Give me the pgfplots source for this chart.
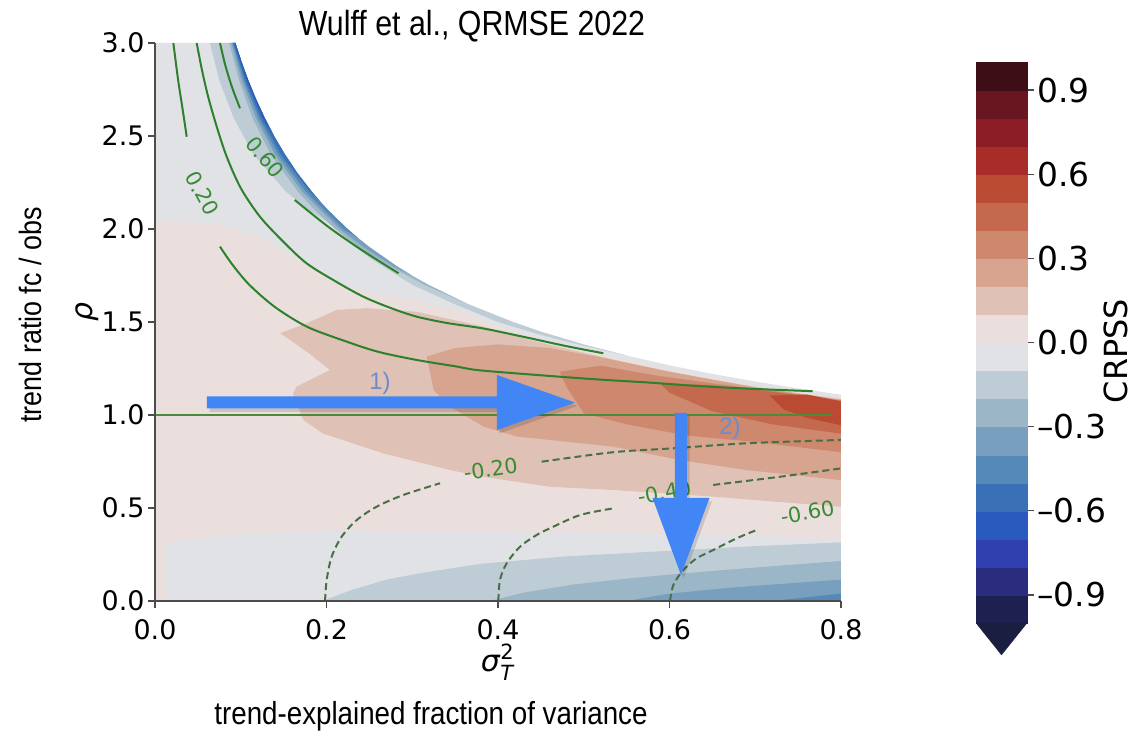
\documentclass[border=0pt]{standalone}
\usepackage{pgfplots}
\pgfplotsset{compat=1.18}
\usepackage{fontspec}
\usepackage{graphicx}
\setmainfont{Liberation Sans}
\newfontfamily\dejavu{DejaVu Sans}
% colour levels (cmocean balance-like), bottom to top
\definecolor{c01}{RGB}{30,32,80}
\definecolor{c02}{RGB}{42,45,125}
\definecolor{c03}{RGB}{48,64,175}
\definecolor{c04}{RGB}{42,90,190}
\definecolor{c05}{RGB}{58,113,182}
\definecolor{c06}{RGB}{84,137,184}
\definecolor{c07}{RGB}{120,160,190}
\definecolor{c08}{RGB}{155,182,198}
\definecolor{c09}{RGB}{190,205,213}
\definecolor{c10}{RGB}{224,226,229}
\definecolor{c11}{RGB}{235,223,221}
\definecolor{c12}{RGB}{223,193,182}
\definecolor{c13}{RGB}{214,164,143}
\definecolor{c14}{RGB}{205,136,109}
\definecolor{c15}{RGB}{196,105,77}
\definecolor{c16}{RGB}{186,75,50}
\definecolor{c17}{RGB}{168,44,40}
\definecolor{c18}{RGB}{140,28,38}
\definecolor{c19}{RGB}{105,22,33}
\definecolor{c20}{RGB}{62,14,22}
\definecolor{ctri}{RGB}{26,30,65}
\definecolor{cgreen}{RGB}{45,128,45}
\definecolor{cdash}{RGB}{72,112,68}
\definecolor{cline}{RGB}{75,140,60}
\definecolor{clab}{RGB}{55,140,50}
\definecolor{arrowblue}{RGB}{66,133,244}
\definecolor{lblue}{RGB}{105,142,205}
\begin{document}
\begin{tikzpicture}
\useasboundingbox (0bp,0bp) rectangle (1136bp,733bp);
\begin{axis}[
  at={(155bp,132bp)}, anchor=south west, scale only axis,
  width=686bp, height=558bp,
  xmin=0, xmax=0.8, ymin=0, ymax=3,
  axis x line*=bottom, axis y line*=left,
  axis line style={-, draw=black!70, line width=1.3bp},
  xtick={0,0.2,0.4,0.6,0.8}, xticklabels={0.0,0.2,0.4,0.6,0.8},
  ytick={0,0.5,1,1.5,2,2.5,3}, yticklabels={0.0,0.5,1.0,1.5,2.0,2.5,3.0},
  tick align=outside, major tick length=7bp,
  tick style={black!70, line width=1.2bp},
  tick label style={font=\dejavu\fontsize{27}{32}\selectfont, black},
  xticklabel style={yshift=-8bp},
  axis on top,
]
% ---------- base domain (-0.1..0)
\addplot[draw=none, fill=c10] coordinates {(0,0) (0.8,0) (0.8,1.109) (0.75,1.143) (0.7,1.18) (0.65,1.221) (0.6,1.267) (0.55,1.32) (0.5,1.379) (0.45,1.448) (0.4174,1.5) (0.3632,1.6) (0.3187,1.7) (0.2994,1.75) (0.2818,1.8) (0.2508,1.9) (0.2371,1.95) (0.2245,2.0) (0.2021,2.1) (0.1921,2.15) (0.1829,2.2) (0.1661,2.3) (0.1516,2.4) (0.1388,2.5) (0.1276,2.6) (0.1176,2.7) (0.1087,2.8) (0.1008,2.9) (0.0937,3.0) (0,3)} --cycle;
% ---------- bands along the upper edge
\addplot[draw=none, fill=c09] coordinates {(0.064,3.0) (0.075,2.8) (0.0915,2.6) (0.115,2.4) (0.153,2.2) (0.18,2.1) (0.2,2.04) (0.25,1.845) (0.3,1.70) (0.35,1.595) (0.4,1.50) (0.45,1.43) (0.5,1.372) (0.55,1.32) (0.5,1.379) (0.45,1.448) (0.4174,1.5) (0.3632,1.6) (0.3187,1.7) (0.2994,1.75) (0.2818,1.8) (0.2508,1.9) (0.2371,1.95) (0.2245,2.0) (0.2021,2.1) (0.1921,2.15) (0.1829,2.2) (0.1661,2.3) (0.1516,2.4) (0.1388,2.5) (0.1276,2.6) (0.1176,2.7) (0.1087,2.8) (0.1008,2.9) (0.0937,3.0)} --cycle;
\addplot[draw=none, fill=c08] coordinates {(0.0865,3.0) (0.098,2.8) (0.1135,2.6) (0.135,2.4) (0.167,2.2) (0.187,2.1) (0.2105,2.0) (0.239,1.9) (0.274,1.8) (0.314,1.7) (0.3632,1.6) (0.3187,1.7) (0.2994,1.75) (0.2818,1.8) (0.2508,1.9) (0.2371,1.95) (0.2245,2.0) (0.2021,2.1) (0.1921,2.15) (0.1829,2.2) (0.1661,2.3) (0.1516,2.4) (0.1388,2.5) (0.1276,2.6) (0.1176,2.7) (0.1087,2.8) (0.1008,2.9) (0.0937,3.0)} --cycle;
\addplot[draw=none, fill=c07] coordinates {(0.089,3.0) (0.101,2.8) (0.1175,2.6) (0.140,2.4) (0.172,2.2) (0.2155,2.0) (0.244,1.9) (0.278,1.8) (0.2994,1.75) (0.2818,1.8) (0.2508,1.9) (0.2371,1.95) (0.2245,2.0) (0.2021,2.1) (0.1921,2.15) (0.1829,2.2) (0.1661,2.3) (0.1516,2.4) (0.1388,2.5) (0.1276,2.6) (0.1176,2.7) (0.1087,2.8) (0.1008,2.9) (0.0937,3.0)} --cycle;
\addplot[draw=none, fill=c06] coordinates {(0.0905,3.0) (0.1035,2.8) (0.1205,2.6) (0.1435,2.4) (0.176,2.2) (0.2195,2.0) (0.2371,1.95) (0.2245,2.0) (0.2021,2.1) (0.1921,2.15) (0.1829,2.2) (0.1661,2.3) (0.1516,2.4) (0.1388,2.5) (0.1276,2.6) (0.1176,2.7) (0.1087,2.8) (0.1008,2.9) (0.0937,3.0)} --cycle;
\addplot[draw=none, fill=c05] coordinates {(0.0915,3.0) (0.105,2.8) (0.123,2.6) (0.147,2.4) (0.1805,2.2) (0.1921,2.15) (0.1829,2.2) (0.1661,2.3) (0.1516,2.4) (0.1388,2.5) (0.1276,2.6) (0.1176,2.7) (0.1087,2.8) (0.1008,2.9) (0.0937,3.0)} --cycle;
\addplot[draw=none, fill=c04] coordinates {(0.0925,3.0) (0.107,2.8) (0.1255,2.6) (0.1388,2.5) (0.1276,2.6) (0.1176,2.7) (0.1087,2.8) (0.1008,2.9) (0.0937,3.0)} --cycle;
% ---------- bands along the bottom
\addplot[draw=none, fill=c09] coordinates {(0.195,0) (0.8,0) (0.8,0.315) (0.7,0.295) (0.6,0.27) (0.48,0.24) (0.38,0.2) (0.31,0.15) (0.27,0.115) (0.23,0.06)} --cycle;
\addplot[draw=none, fill=c08] coordinates {(0.39,0) (0.8,0) (0.8,0.215) (0.7,0.18) (0.62,0.15) (0.56,0.125) (0.49,0.09) (0.43,0.045)} --cycle;
\addplot[draw=none, fill=c07] coordinates {(0.55,0) (0.8,0) (0.8,0.115) (0.74,0.095) (0.68,0.075) (0.6,0.04)} --cycle;
\addplot[draw=none, fill=c06] coordinates {(0.72,0) (0.8,0) (0.8,0.04)} --cycle;
% ---------- positive levels
\addplot[draw=none, fill=c11] coordinates {(0,0) (0.012,0) (0.012,0.30) (0.03,0.33) (0.1,0.36) (0.2,0.38) (0.3,0.375) (0.4,0.37) (0.5,0.37) (0.6,0.365) (0.7,0.35) (0.8,0.335) (0.8,1.09) (0.75,1.124) (0.7,1.16) (0.65,1.2) (0.6,1.245) (0.55,1.295) (0.5,1.345) (0.45,1.405) (0.4,1.475) (0.35,1.57) (0.3,1.62) (0.26,1.65) (0.22,1.70) (0.17,1.83) (0.12,1.96) (0.07,2.03) (0,2.04)} --cycle;
\addplot[draw=none, fill=c12] coordinates {(0.146,1.44) (0.177,1.493) (0.212,1.565) (0.247,1.574) (0.305,1.555) (0.383,1.475) (0.44,1.40) (0.5,1.335) (0.55,1.282) (0.6,1.234) (0.65,1.19) (0.7,1.152) (0.75,1.117) (0.8,1.086) (0.8,0.507) (0.72,0.535) (0.651,0.561) (0.534,0.597) (0.46,0.614) (0.383,0.668) (0.344,0.704) (0.266,0.794) (0.196,0.9) (0.173,0.973) (0.161,1.116) (0.165,1.152) (0.204,1.242) (0.18,1.33)} --cycle;
\addplot[draw=none, fill=c13] coordinates {(0.317,1.314) (0.35,1.36) (0.4,1.38) (0.46,1.36) (0.52,1.31) (0.6,1.232) (0.7,1.148) (0.8,1.082) (0.8,0.65) (0.69,0.704) (0.612,0.758) (0.534,0.83) (0.46,0.866) (0.422,0.884) (0.383,0.938) (0.344,1.045) (0.325,1.134)} --cycle;
\addplot[draw=none, fill=c14] coordinates {(0.472,1.233) (0.52,1.265) (0.58,1.215) (0.65,1.17) (0.72,1.13) (0.8,1.079) (0.8,0.80) (0.7,0.855) (0.62,0.89) (0.55,0.95) (0.5,1.01) (0.48,1.15)} --cycle;
\addplot[draw=none, fill=c15] coordinates {(0.589,1.17) (0.65,1.16) (0.72,1.125) (0.8,1.076) (0.8,0.90) (0.72,0.95) (0.65,1.02) (0.6,1.12)} --cycle;
\addplot[draw=none, fill=c16] coordinates {(0.717,1.105) (0.76,1.11) (0.8,1.073) (0.8,0.945) (0.76,0.985) (0.733,1.03)} --cycle;
% ---------- solid contour lines
\addplot[cgreen, line width=2bp, smooth] coordinates {(0.0214,3.0) (0.027,2.8) (0.032,2.65) (0.037,2.496)};
\addplot[cgreen, line width=2bp, smooth] coordinates {(0.0758,1.905) (0.09,1.81) (0.11,1.70) (0.14,1.58) (0.177,1.475) (0.22,1.40) (0.26,1.34) (0.305,1.296) (0.35,1.262) (0.379,1.24) (0.46,1.21) (0.52,1.19) (0.574,1.175) (0.636,1.155) (0.7,1.14) (0.767,1.128)};
\addplot[cgreen, line width=2bp, smooth] coordinates {(0.0486,3.0) (0.055,2.85) (0.062,2.711) (0.072,2.55) (0.0836,2.389) (0.1,2.22) (0.1224,2.066) (0.15,1.93) (0.1769,1.815) (0.21,1.72) (0.243,1.636) (0.275,1.575) (0.305,1.529) (0.34,1.495) (0.383,1.465) (0.43,1.42) (0.48,1.37) (0.5228,1.332)};
\addplot[cgreen, line width=2bp, smooth] coordinates {(0.0758,3.0) (0.082,2.88) (0.09,2.76) (0.0991,2.649)};
\addplot[cgreen, line width=2bp, smooth] coordinates {(0.163,2.156) (0.202,2.012) (0.241,1.887) (0.284,1.762)};
\addplot[cline, line width=1.6bp] coordinates {(0,1.0) (0.79,1.0)};
% ---------- dashed contour lines
\addplot[cdash, line width=2bp, smooth, dash pattern=on 7bp off 4bp] coordinates {(0.1983,0.0) (0.2002,0.113) (0.206,0.238) (0.2177,0.346) (0.2352,0.435) (0.2585,0.507) (0.2896,0.570) (0.3324,0.633)};
\addplot[cdash, line width=2bp, smooth, dash pattern=on 7bp off 4bp] coordinates {(0.451,0.749) (0.5345,0.80) (0.6045,0.821) (0.69,0.848) (0.8,0.866)};
\addplot[cdash, line width=2bp, smooth, dash pattern=on 7bp off 4bp] coordinates {(0.4004,0.0) (0.4023,0.113) (0.4101,0.2025) (0.4257,0.292) (0.4451,0.355) (0.4606,0.391) (0.4956,0.462) (0.5345,0.498)};
\addplot[cdash, line width=2bp, smooth, dash pattern=on 7bp off 4bp] coordinates {(0.651,0.624) (0.7289,0.668) (0.8,0.713)};
\addplot[cdash, line width=2bp, smooth, dash pattern=on 7bp off 4bp] coordinates {(0.6006,0.0) (0.6045,0.086) (0.6161,0.167) (0.6317,0.2295) (0.651,0.274) (0.6784,0.337) (0.7017,0.382)};
% ---------- contour labels
\node[text=clab, font=\dejavu\fontsize{21}{24}\selectfont, rotate=-62, inner sep=0pt] at (axis cs:0.0552,2.192) {0.20};
\node[text=clab, font=\dejavu\fontsize{21}{24}\selectfont, rotate=-50, inner sep=0pt] at (axis cs:0.1283,2.385) {0.60};
\node[text=clab, font=\dejavu\fontsize{21}{24}\selectfont, rotate=8, inner sep=0pt] at (axis cs:0.3915,0.71) {-0.20};
\node[text=clab, font=\dejavu\fontsize{21}{24}\selectfont, rotate=10, inner sep=0pt] at (axis cs:0.594,0.585) {-0.40};
\node[text=clab, font=\dejavu\fontsize{21}{24}\selectfont, rotate=10, inner sep=0pt] at (axis cs:0.7608,0.477) {-0.60};
% ---------- arrows (shadow, then arrow)
\addplot[draw=none, fill=black, fill opacity=0.13] coordinates {(0.0636,1.017) (0.4018,1.017) (0.4018,0.901) (0.4928,1.049) (0.4018,1.197) (0.4018,1.0815) (0.0636,1.0815)} --cycle;
\addplot[draw=none, fill=arrowblue] coordinates {(0.0606,1.035) (0.3988,1.035) (0.3988,0.919) (0.4898,1.067) (0.3988,1.215) (0.3988,1.0995) (0.0606,1.0995)} --cycle;
\addplot[draw=none, fill=black, fill opacity=0.13] coordinates {(0.6094,0.993) (0.6234,0.993) (0.6234,0.536) (0.6496,0.536) (0.6164,0.122) (0.5832,0.536) (0.6094,0.536)} --cycle;
\addplot[draw=none, fill=arrowblue] coordinates {(0.6064,1.011) (0.6204,1.011) (0.6204,0.554) (0.6466,0.554) (0.6134,0.140) (0.5802,0.554) (0.6064,0.554)} --cycle;
\node[text=lblue, font=\fontsize{24}{28}\selectfont] at (axis cs:0.2624,1.172) {1)};
\node[text=lblue, font=\fontsize{24}{28}\selectfont] at (axis cs:0.6706,0.930) {2)};
\end{axis}
% ---------- colour bar
\begin{axis}[
  at={(976bp,110bp)}, anchor=south west, scale only axis,
  width=51bp, height=561bp,
  xmin=0, xmax=1, ymin=-1, ymax=1, clip=false,
  axis x line=none, axis y line*=right,
  y axis line style={draw=none},
  ytick={-0.9,-0.6,-0.3,0,0.3,0.6,0.9},
  yticklabels={–0.9,–0.6,–0.3,0.0,0.3,0.6,0.9},
  tick align=outside, major tick length=7bp,
  tick style={black!70, line width=1.2bp},
  yticklabel style={font=\dejavu\fontsize{33}{38}\selectfont, black},
]
\addplot[c01, line width=0.3bp, fill=c01] coordinates {(0,-1.0) (1,-1.0) (1,-0.9) (0,-0.9)} --cycle;
\addplot[c02, line width=0.3bp, fill=c02] coordinates {(0,-0.9) (1,-0.9) (1,-0.8) (0,-0.8)} --cycle;
\addplot[c03, line width=0.3bp, fill=c03] coordinates {(0,-0.8) (1,-0.8) (1,-0.7) (0,-0.7)} --cycle;
\addplot[c04, line width=0.3bp, fill=c04] coordinates {(0,-0.7) (1,-0.7) (1,-0.6) (0,-0.6)} --cycle;
\addplot[c05, line width=0.3bp, fill=c05] coordinates {(0,-0.6) (1,-0.6) (1,-0.5) (0,-0.5)} --cycle;
\addplot[c06, line width=0.3bp, fill=c06] coordinates {(0,-0.5) (1,-0.5) (1,-0.4) (0,-0.4)} --cycle;
\addplot[c07, line width=0.3bp, fill=c07] coordinates {(0,-0.4) (1,-0.4) (1,-0.3) (0,-0.3)} --cycle;
\addplot[c08, line width=0.3bp, fill=c08] coordinates {(0,-0.3) (1,-0.3) (1,-0.2) (0,-0.2)} --cycle;
\addplot[c09, line width=0.3bp, fill=c09] coordinates {(0,-0.2) (1,-0.2) (1,-0.1) (0,-0.1)} --cycle;
\addplot[c10, line width=0.3bp, fill=c10] coordinates {(0,-0.1) (1,-0.1) (1,0.0) (0,0.0)} --cycle;
\addplot[c11, line width=0.3bp, fill=c11] coordinates {(0,0.0) (1,0.0) (1,0.1) (0,0.1)} --cycle;
\addplot[c12, line width=0.3bp, fill=c12] coordinates {(0,0.1) (1,0.1) (1,0.2) (0,0.2)} --cycle;
\addplot[c13, line width=0.3bp, fill=c13] coordinates {(0,0.2) (1,0.2) (1,0.3) (0,0.3)} --cycle;
\addplot[c14, line width=0.3bp, fill=c14] coordinates {(0,0.3) (1,0.3) (1,0.4) (0,0.4)} --cycle;
\addplot[c15, line width=0.3bp, fill=c15] coordinates {(0,0.4) (1,0.4) (1,0.5) (0,0.5)} --cycle;
\addplot[c16, line width=0.3bp, fill=c16] coordinates {(0,0.5) (1,0.5) (1,0.6) (0,0.6)} --cycle;
\addplot[c17, line width=0.3bp, fill=c17] coordinates {(0,0.6) (1,0.6) (1,0.7) (0,0.7)} --cycle;
\addplot[c18, line width=0.3bp, fill=c18] coordinates {(0,0.7) (1,0.7) (1,0.8) (0,0.8)} --cycle;
\addplot[c19, line width=0.3bp, fill=c19] coordinates {(0,0.8) (1,0.8) (1,0.9) (0,0.9)} --cycle;
\addplot[c20, line width=0.3bp, fill=c20] coordinates {(0,0.9) (1,0.9) (1,1.0) (0,1.0)} --cycle;
\addplot[ctri, line width=0.3bp, fill=ctri] coordinates {(0,-1.0) (1,-1.0) (0.5,-1.114)} --cycle;
\end{axis}
% ---------- titles and labels
\node[font=\fontsize{35}{42}\selectfont, anchor=base] at (472bp,697bp) {\scalebox{0.87}[1]{Wulff et al., QRMSE 2022}};
\node[rotate=90, font=\fontsize{31}{37}\selectfont] at (30bp,418bp) {\scalebox{0.87}[1]{trend ratio fc / obs}};
\node[rotate=90, font=\dejavu\itshape\fontsize{30}{36}\selectfont] at (87bp,421bp) {ρ};
\node[font=\dejavu\fontsize{30}{36}\selectfont] at (497bp,71bp) {\textit{σ}\makebox[0pt][l]{\raisebox{0.42em}{\fontsize{21}{21}\selectfont 2}}\raisebox{-0.3em}{\fontsize{21}{21}\selectfont\itshape T}};
\node[font=\fontsize{32}{38}\selectfont] at (431bp,17bp) {\scalebox{0.87}[1]{trend-explained fraction of variance}};
\node[rotate=90, font=\dejavu\fontsize{32}{38}\selectfont, inner sep=1bp] at (1116bp,382bp) {CRPSS};
\end{tikzpicture}
\end{document}
